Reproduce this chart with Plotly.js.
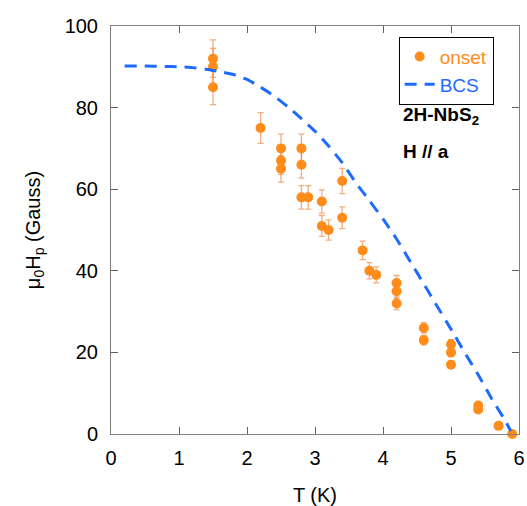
<!DOCTYPE html>
<html>
<head>
<meta charset="utf-8">
<script src="https://cdn.plot.ly/plotly-3.0.1.min.js"></script>
<style>html,body{margin:0;padding:0;background:#fff;}#chart{width:527px;height:506px;}</style>
</head>
<body>
<div id="chart"></div>
<script>
// Onset data (T in K, field in Gauss)
const onsetT = [1.5,1.5,1.5,2.2,2.5,2.5,2.5,2.8,2.8,2.8,2.9,3.1,3.1,3.2,3.4,3.4,3.7,3.8,3.9,4.2,4.2,4.2,4.6,4.6,5.0,5.0,5.0,5.4,5.4,5.7,5.9];
const onsetH = [92,90,85,75,70,67,65,70,66,58,58,57,51,50,62,53,45,40,39,37,35,32,26,23,22,20,17,7,6,2,0];
// BCS curve
const bcsT = [0.2,0.5,0.8,1.0,1.2,1.4,1.6,1.8,2.0,2.2,2.4,2.6,2.8,3.0,3.2,3.4,3.6,3.8,4.0,4.2,4.4,4.6,4.8,5.0,5.2,5.4,5.6,5.8,5.88];
const bcsH = [90.2,90.2,90.1,90,89.8,89.4,88.8,88.1,86.9,85.0,82.8,80.2,77.3,74.2,70.6,66.5,61.6,57.2,52.7,47.8,42.3,36.8,31.2,25.7,20,14.5,8.6,3.2,0.7];
const xTicks = [0,1,2,3,4,5,6];
const yTicks = [0,20,40,60,80,100];

const orange = '#ff8c1a';
const blue = '#1f6bff';
const font = 'Liberation Sans, Arial, sans-serif';

const traces = [
  {
    x: onsetT, y: onsetH, type: 'scatter', mode: 'markers',
    name: '<span style="color:' + orange + '">onset</span>',
    marker: {color: orange, size: 10},
    error_y: {type: 'percent', value: 5, color: 'rgba(240,140,70,0.7)', thickness: 1.3, width: 3},
    cliponaxis: false
  },
  {
    x: bcsT, y: bcsH, type: 'scatter', mode: 'lines',
    name: '<span style="color:' + blue + '">BCS</span>',
    line: {color: blue, width: 3, dash: '12px,8px', shape: 'spline', smoothing: 0.5}
  }
];

const axisCommon = {
  showline: true, linecolor: '#808080', linewidth: 1, mirror: 'ticks',
  ticks: 'inside', ticklen: 7, tickcolor: '#606060', tickwidth: 1,
  showgrid: false, zeroline: false,
  tickfont: {family: font, size: 20, color: '#000'}
};

const layout = {
  width: 527, height: 506,
  margin: {l: 111, r: 8, t: 26, b: 72},
  paper_bgcolor: '#fff', plot_bgcolor: '#fff',
  font: {family: font, color: '#000'},
  showlegend: true,
  legend: {
    x: 0.705, y: 0.974, xanchor: 'left', yanchor: 'top',
    bordercolor: '#000', borderwidth: 1, bgcolor: '#fff',
    font: {family: font, size: 19}, tracegroupgap: 0, itemwidth: 30
  },
  xaxis: Object.assign({}, axisCommon, {
    range: [0, 6], tickvals: xTicks, ticktext: xTicks.map(String),
    ticklabelstandoff: 6,
    title: {text: 'T (K)', font: {family: font, size: 20}, standoff: 22}
  }),
  yaxis: Object.assign({}, axisCommon, {
    range: [0, 100], tickvals: yTicks, ticktext: yTicks.map(String),
    ticklabelstandoff: 8,
    title: {text: 'μ<sub>0</sub>H<sub>p</sub> (Gauss)', font: {family: font, size: 20}, standoff: 18}
  }),
  annotations: [
    {xref: 'paper', yref: 'paper', x: 0.71, y: 0.78, xanchor: 'left', yanchor: 'middle',
     text: '<b>2H-NbS<sub>2</sub></b>', showarrow: false, font: {family: font, size: 19, color: '#000'}},
    {xref: 'paper', yref: 'paper', x: 0.71, y: 0.693, xanchor: 'left', yanchor: 'middle',
     text: '<b>H // a</b>', showarrow: false, font: {family: font, size: 19, color: '#000'}}
  ]
};

Plotly.newPlot('chart', traces, layout, {displayModeBar: false, staticPlot: true});
</script>
</body>
</html>
